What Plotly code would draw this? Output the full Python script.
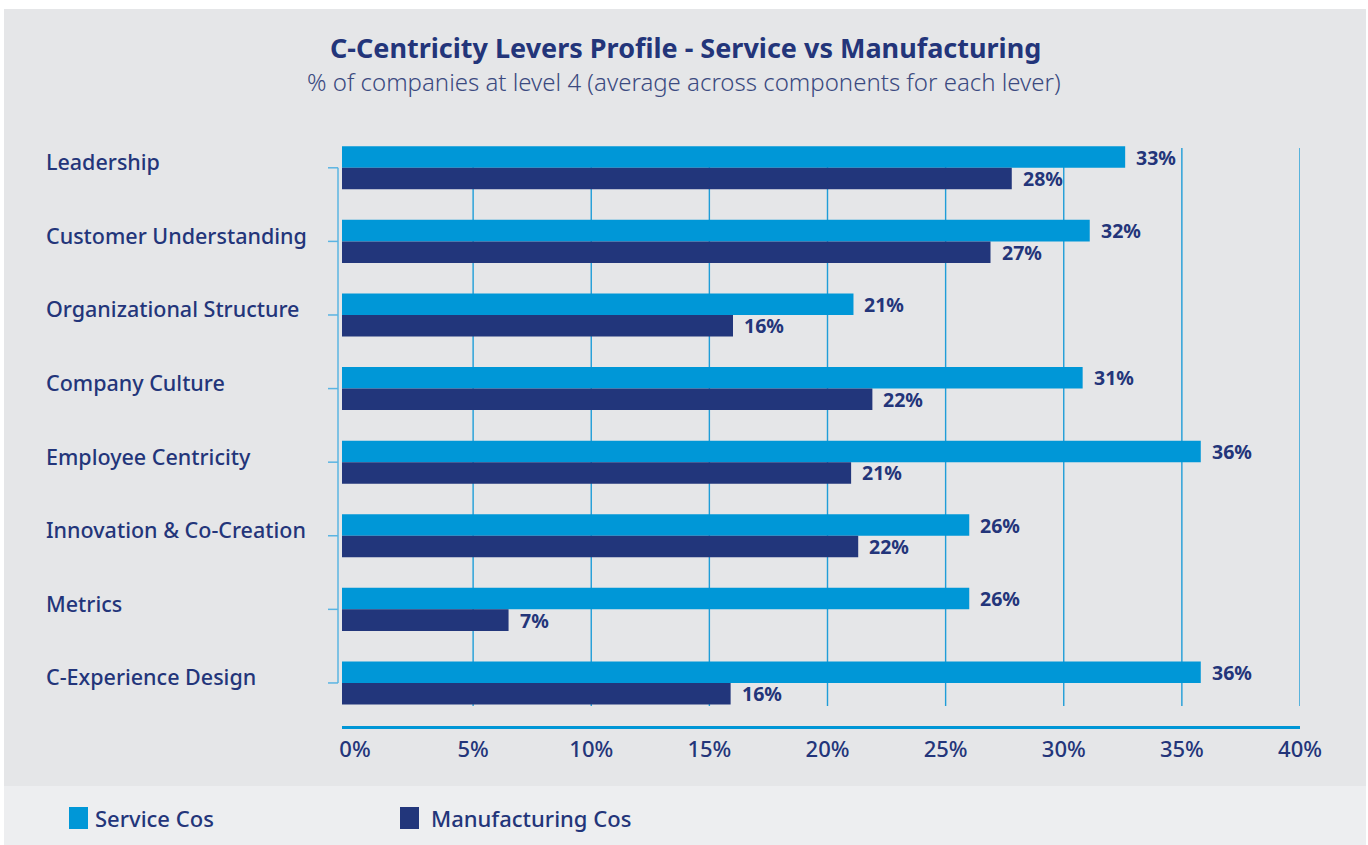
import plotly.graph_objects as go

# ---------------- data ----------------
categories = [
    "Leadership",
    "Customer Understanding",
    "Organizational Structure",
    "Company Culture",
    "Employee Centricity",
    "Innovation & Co-Creation",
    "Metrics",
    "C-Experience Design",
]
service_values = [32.6, 31.1, 21.1, 30.8, 35.8, 26.0, 26.0, 35.8]
manufacturing_values = [27.8, 26.9, 16.0, 21.9, 21.0, 21.3, 6.5, 15.9]
service_labels = ["33%", "32%", "21%", "31%", "36%", "26%", "26%", "36%"]
manufacturing_labels = ["28%", "27%", "16%", "22%", "21%", "22%", "7%", "16%"]
x_tickvals = [0, 5, 10, 15, 20, 25, 30, 35, 40]
x_ticktext = ["0%", "5%", "10%", "15%", "20%", "25%", "30%", "35%", "40%"]
series_names = ["Service Cos", "Manufacturing Cos"]

# ---------------- style ----------------
W, H = 1368, 845
PLOT_L, PLOT_R, PLOT_T, PLOT_B = 342, 1300, 131, 726
X_MIN, X_MAX = -0.55, 40
Y_RANGE = [7.585, -0.5]
SERVICE = "#0097d7"
MANUF = "#22367b"
NAVY = "#23357a"
SUB = "#3b4a80"
PANEL = "#e5e6e8"
BAND = "#edeef0"
GRID = "#1f9dd8"
BRACKET = "#5ab4e2"
FONT = "Noto Sans"


def px_x(px):
    return (px - PLOT_L) / (PLOT_R - PLOT_L)


def px_y(py):
    return (PLOT_B - py) / (PLOT_B - PLOT_T)


fig = go.Figure()
for vals, color, name in [(service_values, SERVICE, series_names[0]),
                          (manufacturing_values, MANUF, series_names[1])]:
    fig.add_trace(go.Bar(
        y=categories,
        x=[v - X_MIN for v in vals],
        base=X_MIN,
        orientation="h",
        marker=dict(color=color, line=dict(width=0)),
        name=name,
        showlegend=False,
        hoverinfo="skip",
    ))

shapes = []
# panel backgrounds
shapes.append(dict(type="rect", xref="paper", yref="paper", layer="below",
                   x0=px_x(4), x1=px_x(1366), y0=px_y(786), y1=px_y(9),
                   fillcolor=PANEL, line=dict(width=0)))
shapes.append(dict(type="rect", xref="paper", yref="paper", layer="below",
                   x0=px_x(4), x1=px_x(1366), y0=px_y(845), y1=px_y(786),
                   fillcolor=BAND, line=dict(width=0)))
# vertical gridlines
for v in x_tickvals[1:]:
    shapes.append(dict(type="line", xref="x", yref="paper", layer="below",
                       x0=v, x1=v, y0=px_y(706), y1=px_y(148),
                       line=dict(color=GRID, width=1.4)))
# left bracket axis
shapes.append(dict(type="line", xref="paper", yref="y",
                   x0=px_x(338), x1=px_x(338), y0=categories[0], y1=categories[-1],
                   line=dict(color=BRACKET, width=1.5)))
for c in categories:
    shapes.append(dict(type="line", xref="paper", yref="y",
                       x0=px_x(328), x1=px_x(338), y0=c, y1=c,
                       line=dict(color=BRACKET, width=1.5)))

annotations = []
# title & subtitle
annotations.append(dict(xref="paper", yref="paper", x=px_x(685), y=px_y(47),
                        text="<b>C-Centricity Levers Profile - Service vs Manufacturing</b>",
                        showarrow=False, xanchor="center", yanchor="middle",
                        font=dict(family=FONT, size=27, color=NAVY)))
annotations.append(dict(xref="paper", yref="paper", x=px_x(684), y=px_y(81),
                        text="% of companies at level 4 (average across components for each lever)",
                        showarrow=False, xanchor="center", yanchor="middle",
                        font=dict(family=FONT, size=24, color=SUB, weight=300)))
# category labels
for c in categories:
    annotations.append(dict(xref="paper", yref="y", x=px_x(44), y=c, yshift=6,
                            text=c, showarrow=False, xanchor="left", yanchor="middle",
                            font=dict(family=FONT, size=21.5, color=NAVY, weight=500)))
# value labels
bar_offset = 10.75
for vals, labels, shift in [(service_values, service_labels, bar_offset),
                            (manufacturing_values, manufacturing_labels, -bar_offset)]:
    for c, v, t in zip(categories, vals, labels):
        annotations.append(dict(xref="x", yref="y", x=v, y=c, yshift=shift, xshift=9,
                                text="<b>" + t + "</b>", showarrow=False,
                                xanchor="left", yanchor="middle",
                                font=dict(family=FONT, size=19.5, color=NAVY)))
# custom legend
for name, color, sx, tx in [(series_names[0], SERVICE, 69, 93),
                            (series_names[1], MANUF, 400, 429)]:
    shapes.append(dict(type="rect", xref="paper", yref="paper",
                       x0=px_x(sx), x1=px_x(sx + 19), y0=px_y(829), y1=px_y(807),
                       fillcolor=color, line=dict(width=0)))
    annotations.append(dict(xref="paper", yref="paper", x=px_x(tx), y=px_y(818),
                            text=name, showarrow=False, xanchor="left", yanchor="middle",
                            font=dict(family=FONT, size=22, color=NAVY, weight=500)))

fig.update_layout(
    width=W, height=H,
    margin=dict(l=PLOT_L, r=W - PLOT_R, t=PLOT_T, b=H - PLOT_B, pad=0),
    paper_bgcolor="white",
    plot_bgcolor="rgba(0,0,0,0)",
    barmode="group",
    bargap=0.415,
    bargroupgap=0,
    font=dict(family=FONT, color=NAVY),
    shapes=shapes,
    annotations=annotations,
    xaxis=dict(range=[X_MIN, X_MAX], tickvals=x_tickvals, ticktext=x_ticktext,
               showgrid=False, zeroline=False, showline=True,
               linecolor="#0096d6", linewidth=2.5, ticks="",
               ticklabelstandoff=2,
               tickfont=dict(family=FONT, size=22, color=NAVY, weight=500),
               fixedrange=True),
    yaxis=dict(type="category", range=Y_RANGE, showticklabels=False,
               showgrid=False, zeroline=False, showline=False, ticks="",
               fixedrange=True),
)

fig.write_html("out.html")
